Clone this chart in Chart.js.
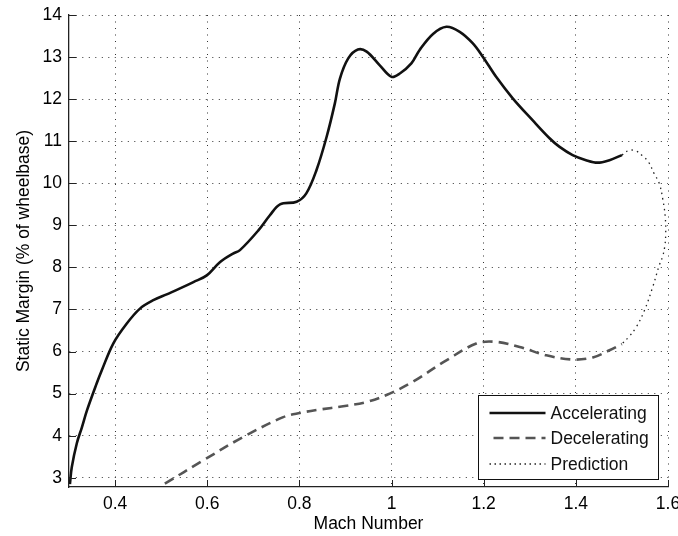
<!DOCTYPE html>
<html lang="en">
<head>
<meta charset="UTF-8">
<title>Static Margin vs Mach Number</title>
<script src="https://cdn.jsdelivr.net/npm/chart.js"></script>
<style>
  html, body { margin: 0; padding: 0; background: #fff; }
</style>
</head>
<body>
<canvas id="chart" width="678" height="536"></canvas>
<script>
// values
const accelMach = [0.302, 0.306, 0.317, 0.328, 0.339, 0.36, 0.371, 0.396, 0.425, 0.454, 0.483, 0.512, 0.541, 0.57, 0.599, 0.628, 0.656, 0.671,
  0.711, 0.736, 0.758, 0.794, 0.815, 0.837, 0.859, 0.877, 0.888, 0.906, 0.927, 0.946, 0.974, 1.0, 1.018, 1.043, 1.061, 1.09,
  1.119, 1.148, 1.176, 1.198, 1.227, 1.263, 1.306, 1.343, 1.364, 1.393, 1.422, 1.447, 1.473, 1.5];
const accelMargin = [2.85, 3.25, 3.82, 4.2, 4.6, 5.24, 5.55, 6.19, 6.66, 7.02, 7.22, 7.36, 7.5, 7.65, 7.81, 8.13, 8.33, 8.41,
  8.88, 9.24, 9.5, 9.56, 9.76, 10.31, 11.1, 11.9, 12.49, 12.97, 13.18, 13.13, 12.81, 12.53, 12.61, 12.85, 13.17, 13.55,
  13.72, 13.6, 13.33, 13.01, 12.53, 12.02, 11.5, 11.07, 10.87, 10.67, 10.55, 10.49, 10.55, 10.67];

const decelMach = [0.508, 0.591, 0.678, 0.765, 0.801, 0.844, 0.895, 0.946, 0.996, 1.046, 1.119, 1.184, 1.227, 1.278, 1.336, 1.393, 1.437, 1.473, 1.5];
const decelMargin = [2.86, 3.41, 3.97, 4.44, 4.54, 4.62, 4.7, 4.8, 5.0, 5.28, 5.79, 6.19, 6.23, 6.11, 5.91, 5.81, 5.86, 6.03, 6.18];

const predMach = [1.5, 1.515, 1.53, 1.545, 1.558, 1.57, 1.581, 1.589, 1.594, 1.595, 1.593, 1.588, 1.581, 1.567, 1.549, 1.531, 1.515, 1.5];
const predMargin = [10.67, 10.78, 10.77, 10.65, 10.5, 10.23, 10.0, 9.6, 9.2, 8.8, 8.5, 8.25, 8.05, 7.54, 6.98, 6.58, 6.35, 6.18];

const xTicks = [0.4, 0.6, 0.8, 1, 1.2, 1.4, 1.6];
const yTicks = [3, 4, 5, 6, 7, 8, 9, 10, 11, 12, 13, 14];

const seriesNames = ["Accelerating", "Decelerating", "Prediction"];

const FONT = '"Liberation Sans", Arial, Helvetica, sans-serif';
const FONT_SIZE = 17.5;
const pts = (xs, ys) => xs.map((x, i) => ({ x: x, y: ys[i] }));

// MATLAB style: inward tick marks + legend box inside the axes
const matlabExtras = {
  id: 'matlabExtras',
  afterDatasetsDraw(chart) {
    const ctx = chart.ctx;
    const xs = chart.scales.x, ys = chart.scales.y;
    const a = chart.chartArea;
    ctx.save();
    ctx.strokeStyle = '#222';
    ctx.lineWidth = 1;
    ctx.beginPath();
    xTicks.forEach(v => {
      const px = Math.round(xs.getPixelForValue(v)) + 0.5;
      ctx.moveTo(px, a.bottom);
      ctx.lineTo(px, a.bottom - 7);
    });
    yTicks.forEach(v => {
      const py = Math.round(ys.getPixelForValue(v)) + 0.5;
      ctx.moveTo(a.left, py);
      ctx.lineTo(a.left + 7, py);
    });
    ctx.stroke();
    ctx.restore();
  },
  afterDraw(chart) {
    const ctx = chart.ctx;
    const a = chart.chartArea;
    const w = 180, h = 84;
    const bx = Math.round(a.right - 10 - w) + 0.5;
    const by = Math.round(a.bottom - 8 - h) + 0.5;
    ctx.save();
    ctx.fillStyle = '#fff';
    ctx.fillRect(bx, by, w, h);
    ctx.strokeStyle = '#111';
    ctx.lineWidth = 1;
    ctx.strokeRect(bx, by, w, h);
    ctx.font = FONT_SIZE + 'px ' + FONT;
    ctx.textBaseline = 'middle';
    ctx.fillStyle = '#111';
    chart.data.datasets.forEach((ds, i) => {
      const cy = Math.round(by + 17 + i * 25.5);
      ctx.save();
      ctx.strokeStyle = ds.borderColor;
      ctx.lineWidth = i === 2 ? 1.5 : ds.borderWidth;
      ctx.setLineDash(i === 2 ? [1.5, 3.5] : (ds.borderDash || []));
      ctx.beginPath();
      ctx.moveTo(bx + (i === 1 ? 15 : 11), cy);
      ctx.lineTo(bx + 67, cy);
      ctx.stroke();
      ctx.restore();
      ctx.fillText(ds.label, bx + 72, cy + 1);
    });
    ctx.restore();
  }
};

const gridOpts = { color: '#333', lineWidth: 1, drawTicks: false };
const borderOpts = { display: true, color: '#222', width: 1.3, dash: [1, 5.5] };

new Chart(document.getElementById('chart'), {
  type: 'line',
  data: {
    datasets: [
      {
        label: seriesNames[0],
        data: pts(accelMach, accelMargin),
        borderColor: '#111',
        borderWidth: 2.6,
        pointRadius: 0,
        tension: 0.35,
        fill: false
      },
      {
        label: seriesNames[1],
        data: pts(decelMach, decelMargin),
        borderColor: '#555',
        borderWidth: 2.6,
        borderDash: [10, 6],
        pointRadius: 0,
        tension: 0.35,
        fill: false
      },
      {
        label: seriesNames[2],
        data: pts(predMach, predMargin),
        borderColor: '#222',
        borderWidth: 1.3,
        borderDash: [1.5, 4],
        pointRadius: 0,
        tension: 0.4,
        fill: false
      }
    ]
  },
  options: {
    responsive: false,
    animation: false,
    layout: { padding: { left: 0, top: 15, right: 10, bottom: 0 } },
    plugins: { legend: { display: false }, tooltip: { enabled: false } },
    scales: {
      x: {
        type: 'linear',
        min: 0.3,
        max: 1.6,
        afterBuildTicks: s => { s.ticks = xTicks.map(v => ({ value: v })); },
        afterFit: s => { s.height = 49; s.paddingLeft = 0; s.paddingRight = 0; },
        grid: gridOpts,
        border: borderOpts,
        ticks: {
          padding: 7,
          color: '#000',
          font: { family: FONT, size: FONT_SIZE },
          maxRotation: 0,
          callback: v => String(v)
        },
        title: {
          display: true,
          text: 'Mach Number',
          color: '#000',
          font: { family: FONT, size: FONT_SIZE },
          padding: { top: 0, bottom: 1 }
        }
      },
      y: {
        type: 'linear',
        min: 2.78,
        max: 14,
        afterBuildTicks: s => { s.ticks = yTicks.map(v => ({ value: v })); },
        afterFit: s => { s.width = 69; s.paddingTop = 0; s.paddingBottom = 0; },
        grid: gridOpts,
        border: borderOpts,
        ticks: {
          padding: 7,
          color: '#000',
          font: { family: FONT, size: FONT_SIZE },
          callback: v => String(v)
        },
        title: {
          display: true,
          text: 'Static Margin (% of wheelbase)',
          color: '#000',
          font: { family: FONT, size: FONT_SIZE },
          padding: { top: 14, bottom: 0 }
        }
      }
    }
  },
  plugins: [matlabExtras]
});
</script>
</body>
</html>
